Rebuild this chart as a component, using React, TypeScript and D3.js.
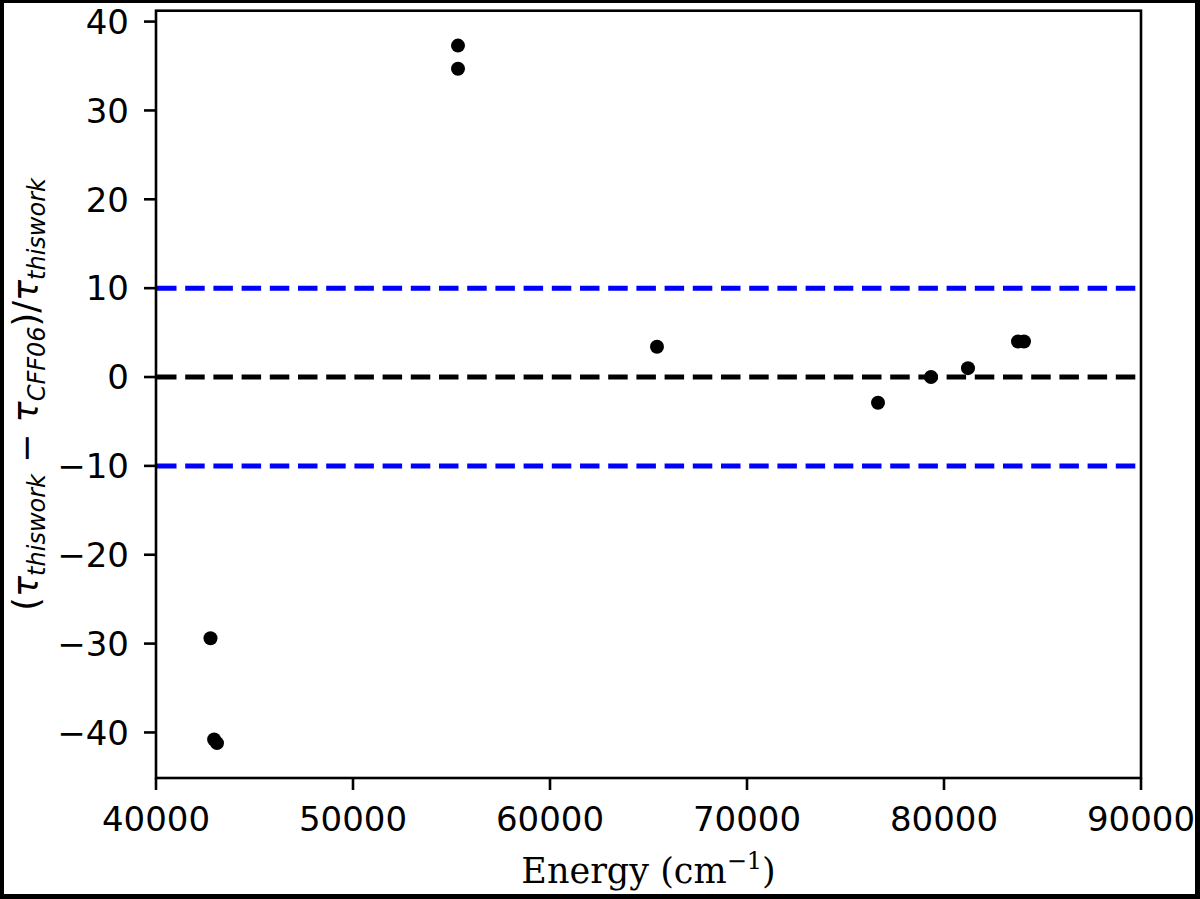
import React from 'react';
import * as d3 from 'd3';

// energies (cm^-1) and relative differences
const energy = [42766, 42950, 43096, 55330, 55330, 65431, 76650, 79340, 81218, 83756, 84061];
const diff = [-29.4, -40.8, -41.2, 37.3, 34.7, 3.4, -2.9, 0.0, 1.0, 4.0, 4.0];

const xTicks = [40000, 50000, 60000, 70000, 80000, 90000];
const yTicks = [-40, -30, -20, -10, 0, 10, 20, 30, 40];
const refLines = [
  { y: 10, color: '#0000ff' },
  { y: 0, color: '#000000' },
  { y: -10, color: '#0000ff' },
];

const W = 1200;
const H = 899;
const m = { left: 156, right: 1141, top: 10.7, bottom: 778 };

export default function App() {
  const x = d3.scaleLinear().domain([40000, 90000]).range([m.left, m.right]);
  const [lo, hi] = d3.extent(diff) as [number, number];
  const pad = (hi - lo) * 0.05;
  const y = d3.scaleLinear().domain([lo - pad, hi + pad]).range([m.bottom, m.top]);

  const fmt = (v: number) => (v < 0 ? '\u2212' + Math.abs(v) : String(v));
  const tickFont = 'DejaVu Sans, sans-serif';
  const fs = 34;
  const sub = 24;

  return (
    <svg width={W} height={H} style={{ position: 'absolute', left: 0, top: 0, display: 'block' }}>
      <rect x={0} y={0} width={W} height={H} fill="#000" />
      <rect x={4} y={3} width={W - 9} height={H - 8} fill="#fff" />

      {refLines.map((r) => (
        <line key={r.y} x1={m.left + 1} x2={m.right} y1={y(r.y)} y2={y(r.y)}
          stroke={r.color} strokeWidth={5} strokeDasharray="19.5 8.7" />
      ))}

      {energy.map((e, i) => (
        <circle key={i} cx={x(e)} cy={y(diff[i])} r={7} fill="#000" />
      ))}

      <rect x={m.left} y={m.top} width={m.right - m.left} height={m.bottom - m.top}
        fill="none" stroke="#000" strokeWidth={2.6} />

      {xTicks.map((t) => (
        <g key={t} transform={`translate(${x(t)},${m.bottom})`}>
          <line y1={0} y2={12} stroke="#000" strokeWidth={2.6} />
          <text y={53} textAnchor="middle" fontFamily={tickFont} fontSize={fs}>{fmt(t)}</text>
        </g>
      ))}
      {yTicks.map((t) => (
        <g key={t} transform={`translate(${m.left},${y(t)})`}>
          <line x1={0} x2={-12} stroke="#000" strokeWidth={2.6} />
          <text x={-27} dy="0.36em" textAnchor="end" fontFamily={tickFont} fontSize={fs}>{fmt(t)}</text>
        </g>
      ))}

      <text x={(m.left + m.right) / 2} y={883} textAnchor="middle"
        fontFamily="DejaVu Serif, serif" fontSize={35}>
        Energy (cm
        <tspan dy={-14} fontSize={sub}>{'\u22121'}</tspan>
        <tspan dy={14}>)</tspan>
      </text>

      <text transform={`translate(38,${(m.top + m.bottom) / 2}) rotate(-90)`} textAnchor="middle"
        fontFamily={tickFont} fontSize={35}>
        <tspan>(</tspan>
        <tspan fontStyle="italic">τ</tspan>
        <tspan fontStyle="italic" fontSize={sub} dy={7}>thiswork</tspan>
        <tspan dy={-7}> {'\u2212'} </tspan>
        <tspan fontStyle="italic">τ</tspan>
        <tspan fontStyle="italic" fontSize={sub} dy={7}>CFF06</tspan>
        <tspan dy={-7}>)/</tspan>
        <tspan fontStyle="italic">τ</tspan>
        <tspan fontStyle="italic" fontSize={sub} dy={7}>thiswork</tspan>
      </text>
    </svg>
  );
}
